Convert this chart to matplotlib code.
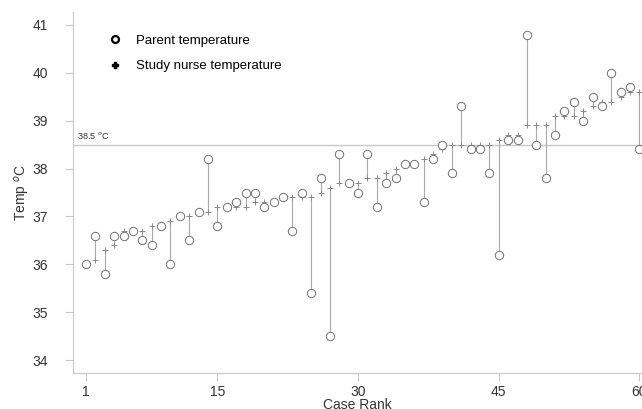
import numpy as np
import matplotlib
matplotlib.use('Agg')
import matplotlib.pyplot as plt
from matplotlib.lines import Line2D

plt.rcParams['font.family'] = ['Liberation Sans', 'DejaVu Sans']

# case rank 1..60, ranked by study nurse temperature
case_rank = np.arange(1, 61)

parent_temp = [36.0, 36.6, 35.8, 36.6, 36.6, 36.7, 36.5, 36.4, 36.8, 36.0,
               37.0, 36.5, 37.1, 38.2, 36.8, 37.2, 37.3, 37.5, 37.5, 37.2,
               37.3, 37.4, 36.7, 37.5, 35.4, 37.8, 34.5, 38.3, 37.7, 37.5,
               38.3, 37.2, 37.7, 37.8, 38.1, 38.1, 37.3, 38.2, 38.5, 37.9,
               39.3, 38.4, 38.4, 37.9, 36.2, 38.6, 38.6, 40.8, 38.5, 37.8,
               38.7, 39.2, 39.4, 39.0, 39.5, 39.3, 40.0, 39.6, 39.7, 38.4]

nurse_temp = [36.0, 36.1, 36.3, 36.4, 36.7, 36.7, 36.7, 36.8, 36.8, 36.9,
              37.0, 37.0, 37.1, 37.1, 37.2, 37.2, 37.2, 37.2, 37.3, 37.3,
              37.3, 37.4, 37.4, 37.4, 37.4, 37.5, 37.6, 37.7, 37.7, 37.7,
              37.8, 37.8, 37.9, 38.0, 38.1, 38.1, 38.2, 38.3, 38.4, 38.5,
              38.5, 38.5, 38.5, 38.5, 38.6, 38.7, 38.7, 38.9, 38.9, 38.9,
              39.1, 39.1, 39.1, 39.2, 39.3, 39.4, 39.4, 39.5, 39.6, 39.6]

x_ticks = [1, 15, 30, 45, 60]
y_ticks = [34, 35, 36, 37, 38, 39, 40, 41]
fever_cut = 38.5

W, H = 642, 409
fig = plt.figure(figsize=(W / 100, H / 100), dpi=100)
ax = fig.add_axes([73 / W, (H - 373) / H, (W - 73) / W, (373 - 12) / H])

# spikes between nurse and parent readings
ax.vlines(case_rank, nurse_temp, parent_temp, color='#aaaaaa', lw=0.8, zorder=2)
ax.plot(case_rank, nurse_temp, '+', color='#888888', ms=4, mew=0.7, zorder=3)
ax.plot(case_rank, parent_temp, 'o', mfc='white', mec='#707070', ms=6, mew=0.7, zorder=4)

# fever threshold line
ax.axhline(fever_cut, color='#c8c8c8', lw=1.0, zorder=1)
ax.text(0.0, fever_cut + 0.07, '38.5 $^{o}$C', fontsize=6.5, color='#333333',
        ha='left', va='bottom')

ax.set_xlim(-0.39, 60.27)
ax.set_ylim(33.73, 41.27)
ax.set_xticks(x_ticks)
ax.set_yticks(y_ticks)

for side in ['top', 'right']:
    ax.spines[side].set_visible(False)
for side in ['left', 'bottom']:
    ax.spines[side].set_color('#c8c8c8')
ax.tick_params(axis='both', colors='#c8c8c8', labelcolor='#333333', length=6,
               labelsize=10)
ax.tick_params(axis='y', pad=12)
ax.tick_params(axis='x', pad=3)

ax.set_xlabel('Case Rank', fontsize=10, color='#333333', labelpad=-1)
ax.set_ylabel('Temp $^{o}$C', fontsize=10, color='#333333', labelpad=0)

handles = [Line2D([], [], ls='none', marker='o', mfc='white', mec='black', mew=1.6, ms=5),
           Line2D([], [], ls='none', marker='P', color='black', ms=4)]
ax.legend(handles, ['Parent temperature', 'Study nurse temperature'],
          loc='upper left', bbox_to_anchor=(0.03, 0.97), frameon=False,
          fontsize=9.5, handletextpad=0.6, labelspacing=1.0)

fig.savefig('out.png', dpi=100)
